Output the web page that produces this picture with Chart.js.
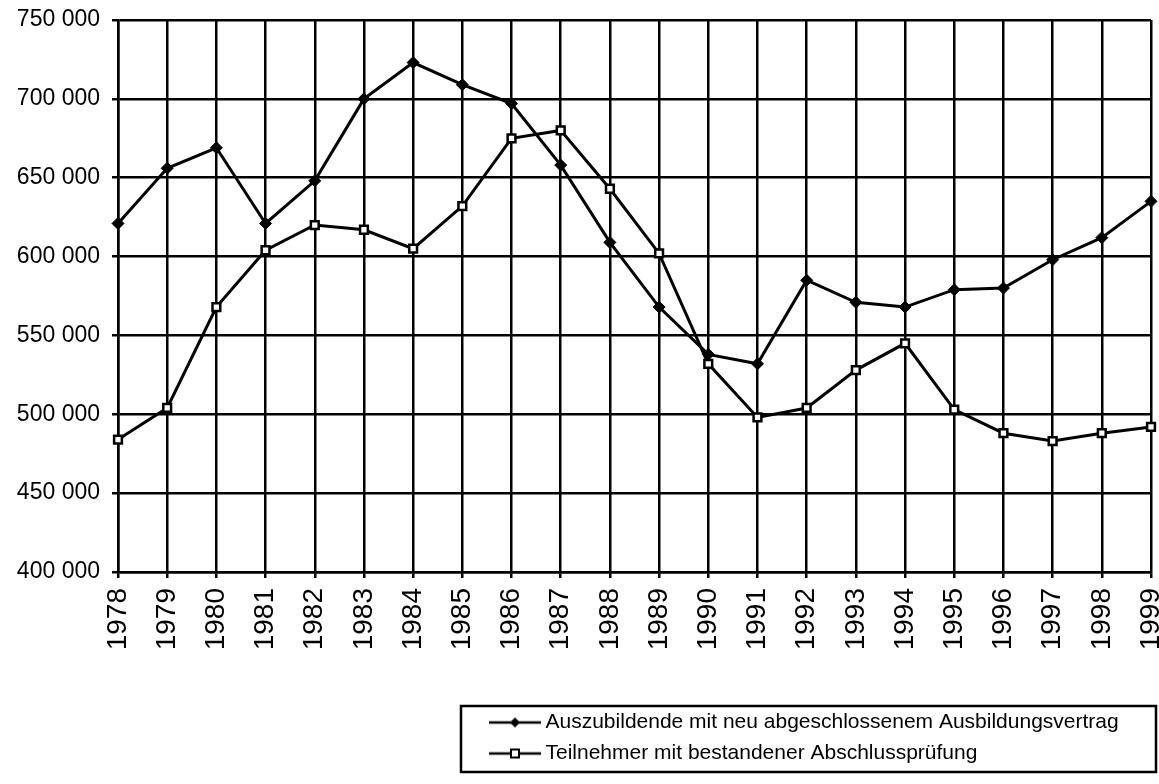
<!DOCTYPE html>
<html>
<head>
<meta charset="utf-8">
<script src="https://cdn.jsdelivr.net/npm/chart.js@4/dist/chart.umd.min.js"></script>
<style>
  html, body { margin: 0; padding: 0; background: #fff; }
  #wrap { width: 1159px; height: 784px; position: relative; }
</style>
</head>
<body>
<div id="wrap"><canvas id="c" width="1159" height="784"></canvas></div>
<script>
const years = ['1978','1979','1980','1981','1982','1983','1984','1985','1986','1987','1988','1989','1990','1991','1992','1993','1994','1995','1996','1997','1998','1999'];
const seriesNames = ['Auszubildende mit neu abgeschlossenem Ausbildungsvertrag', 'Teilnehmer mit bestandener Abschlussprüfung'];
const auszubildende = [621000, 656000, 669000, 621000, 648000, 700000, 723000, 709000, 697000, 658000, 609000, 568000, 538000, 532000, 585000, 571000, 568000, 579000, 580000, 598000, 612000, 635000];
const teilnehmer = [484000, 504000, 568000, 604000, 620000, 617000, 605000, 632000, 675000, 680000, 643000, 602000, 532000, 498000, 504000, 528000, 545000, 503000, 488000, 483000, 488000, 492000];
const yMin = 400000, yMax = 750000, yStep = 50000;

const FONT = "'Liberation Sans', Arial, sans-serif";

function fmt(v) { return String(v).replace(/\B(?=(\d{3})+(?!\d))/g, ' '); }

function legendIcon(kind) {
  const c = document.createElement('canvas');
  c.width = 52; c.height = 14;
  const g = c.getContext('2d');
  g.strokeStyle = '#000'; g.lineWidth = 2.5;
  g.beginPath(); g.moveTo(0, 7); g.lineTo(52, 7); g.stroke();
  if (kind === 'diamond') {
    g.fillStyle = '#000';
    g.beginPath(); g.moveTo(26, 2); g.lineTo(31, 7); g.lineTo(26, 12); g.lineTo(21, 7); g.closePath(); g.fill();
  } else {
    g.fillStyle = '#fff';
    g.fillRect(22, 3, 8, 8);
    g.lineWidth = 2;
    g.strokeRect(22, 3, 8, 8);
  }
  return c;
}
const icons = [legendIcon('diamond'), legendIcon('square')];

const legendPlace = {
  id: 'legendPlace',
  afterLayout(chart) {
    const L = chart.legend;
    if (!L) return;
    L.left = 485; L.top = 702;
  },
  afterDraw(chart) {
    const ctx = chart.ctx;
    ctx.save();
    ctx.strokeStyle = '#000';
    ctx.lineWidth = 2.5;
    ctx.strokeRect(461, 706, 695, 66);
    ctx.restore();
  }
};

new Chart(document.getElementById('c'), {
  type: 'line',
  data: {
    labels: years,
    datasets: [
      {
        label: seriesNames[0],
        data: auszubildende,
        borderColor: '#000', borderWidth: 3,
        pointStyle: 'rectRot', pointRadius: 6, pointBackgroundColor: '#000', pointBorderColor: '#000', pointBorderWidth: 1,
        tension: 0, clip: false
      },
      {
        label: seriesNames[1],
        data: teilnehmer,
        borderColor: '#000', borderWidth: 3,
        pointStyle: 'rect', pointRadius: 5.5, pointBackgroundColor: '#fff', pointBorderColor: '#000', pointBorderWidth: 2.5,
        tension: 0, clip: false
      }
    ]
  },
  options: {
    responsive: false,
    animation: false,
    devicePixelRatio: 1,
    layout: { padding: { top: 20, right: 4, bottom: 0, left: 0 } },
    plugins: {
      tooltip: { enabled: false },
      legend: {
        position: 'bottom',
        align: 'start',
        fullSize: false,
        labels: {
          color: '#000',
          font: { family: FONT, size: 21 },
          padding: 10,
          usePointStyle: true,
          pointStyleWidth: 40,
          generateLabels(chart) {
            const items = Chart.defaults.plugins.legend.labels.generateLabels(chart);
            items.forEach((it, i) => { it.pointStyle = icons[i]; it.fontColor = '#000'; });
            return items;
          }
        }
      }
    },
    scales: {
      x: {
        offset: false,
        grid: { color: '#000', lineWidth: 2.5, tickLength: 6, drawTicks: true },
        border: { color: '#000', width: 2.5 },
        ticks: {
          color: '#000', font: { family: FONT, size: 28 },
          maxRotation: 90, minRotation: 90, autoSkip: false, padding: 10
        },
        afterFit(s) { s.height = 140; s.paddingLeft = 0; s.paddingRight = 0; }
      },
      y: {
        min: yMin, max: yMax,
        grid: { color: '#000', lineWidth: 2.5, tickLength: 6 },
        border: { color: '#000', width: 2.5 },
        ticks: {
          stepSize: yStep, color: '#000', font: { family: FONT, size: 23 }, padding: 12,
          callback: v => fmt(v)
        },
        afterFit(s) { s.width = 118; s.paddingTop = 0; s.paddingBottom = 0; }
      }
    }
  },
  plugins: [legendPlace]
});
</script>
</body>
</html>
